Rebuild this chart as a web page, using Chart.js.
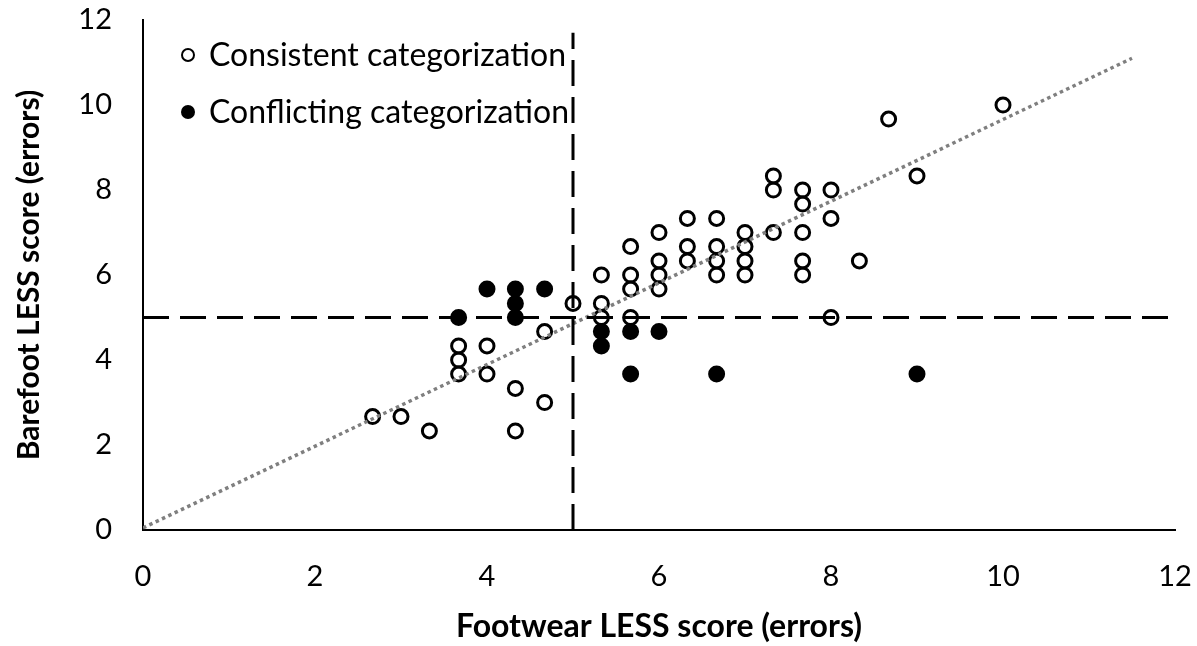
<!DOCTYPE html>
<html>
<head>
<meta charset="utf-8">
<script src="https://cdn.jsdelivr.net/npm/chart.js@4.4.0/dist/chart.umd.min.js"></script>
<style>
  html, body { margin: 0; padding: 0; background: #fff; }
  #wrap { width: 1197px; height: 646px; }
</style>
</head>
<body>
<div id="wrap"><canvas id="lessChart"></canvas></div>
<script>
// open circles - footwear vs barefoot score, same category
var consistentX = [2.67, 3, 3.33, 3.67, 3.67, 3.67, 4, 4, 4.33, 4.33, 4.67, 4.67, 5, 5.33, 5.33, 5.33,
    5.67, 5.67, 5.67, 5.67, 6, 6, 6, 6, 6.33, 6.33, 6.33, 6.67, 6.67, 6.67, 6.67, 7, 7, 7, 7,
    7.33, 7.33, 7.33, 7.67, 7.67, 7.67, 7.67, 7.67, 8, 8, 8, 8.33, 8.67, 9, 10];
var consistentY = [2.67, 2.67, 2.33, 4.33, 4, 3.67, 4.33, 3.67, 3.33, 2.33, 4.67, 3, 5.33, 6, 5.33, 5,
    6.67, 6, 5.67, 5, 7, 6.33, 6, 5.67, 7.33, 6.67, 6.33, 7.33, 6.67, 6.33, 6, 7, 6.67, 6.33, 6,
    8.33, 8, 7, 8, 7.67, 7, 6.33, 6, 8, 7.33, 5, 6.33, 9.67, 8.33, 10];

// filled circles - category changes
var conflictX = [3.67, 4, 4.33, 4.33, 4.33, 4.67, 5.33, 5.33, 5.67, 5.67, 6, 6.67, 9];
var conflictY = [5, 5.67, 5.67, 5.33, 5, 5.67, 4.67, 4.33, 4.67, 3.67, 4.67, 3.67, 3.67];

// trend line ends
var trendX = [0, 11.5];
var trendY = [0.05, 11.1];

// cutoff at 5 errors
var cutVertX = [5, 5];
var cutVertY = [0, 11.7];
var cutHorzX = [0, 12];
var cutHorzY = [5, 5];

var xTicks = [0, 2, 4, 6, 8, 10, 12];
var yTicks = [0, 2, 4, 6, 8, 10, 12];

var legendLabels = ['Consistent categorization', 'Conflicting categorization'];

function toPoints(xs, ys) {
    var pts = [];
    for (var i = 0; i < xs.length; i++) {
        pts.push({ x: xs[i], y: ys[i] });
    }
    return pts;
}

var FONT = 'Lato';

// legend drawn inside the plot, top left
var insideLegend = {
    id: 'insideLegend',
    afterDraw: function (chart) {
        var ctx = chart.ctx;
        var area = chart.chartArea;
        ctx.save();
        ctx.font = '32px ' + FONT;
        ctx.fillStyle = '#000';
        ctx.textBaseline = 'middle';
        var rows = [area.top + 35, area.top + 92];
        for (var i = 0; i < legendLabels.length; i++) {
            ctx.beginPath();
            ctx.arc(area.left + 45, rows[i], i == 0 ? 6 : 7, 0, Math.PI * 2);
            if (i == 0) {
                ctx.lineWidth = 2;
                ctx.strokeStyle = '#000';
                ctx.stroke();
            } else {
                ctx.fill();
            }
            ctx.fillText(legendLabels[i], area.left + 66, rows[i] + 1);
        }
        ctx.restore();
    }
};

var ctx = document.getElementById('lessChart').getContext('2d');
var lessChart = new Chart(ctx, {
    type: 'scatter',
    data: {
        datasets: [
            {
                label: 'cut x',
                type: 'line',
                data: toPoints(cutVertX, cutVertY),
                borderColor: '#000',
                borderWidth: 3,
                borderDash: [26, 11],
                pointRadius: 0,
                fill: false
            },
            {
                label: 'cut y',
                type: 'line',
                data: toPoints(cutHorzX, cutHorzY),
                borderColor: '#000',
                borderWidth: 3,
                borderDash: [26, 11],
                pointRadius: 0,
                fill: false
            },
            {
                label: 'trend',
                type: 'line',
                data: toPoints(trendX, trendY),
                borderColor: '#7f7f7f',
                borderWidth: 3.5,
                borderDash: [3.5, 3.5],
                pointRadius: 0,
                fill: false
            },
            {
                label: legendLabels[0],
                data: toPoints(consistentX, consistentY),
                pointRadius: 7,
                pointBorderWidth: 3,
                borderColor: '#000',
                backgroundColor: 'rgba(0,0,0,0)'
            },
            {
                label: legendLabels[1],
                data: toPoints(conflictX, conflictY),
                pointRadius: 7.5,
                pointBorderWidth: 2,
                borderColor: '#000',
                backgroundColor: '#000'
            }
        ]
    },
    options: {
        responsive: true,
        maintainAspectRatio: false,
        animation: false,
        layout: { autoPadding: false, padding: { top: 20, right: 22, left: 0, bottom: 0 } },
        plugins: {
            legend: { display: false },
            tooltip: { enabled: false }
        },
        scales: {
            x: {
                type: 'linear',
                min: 0,
                max: 12,
                afterBuildTicks: function (scale) {
                    scale.ticks = xTicks.map(function (v) { return { value: v }; });
                },
                afterFit: function (scale) {
                    scale.height = 116;
                    scale.paddingLeft = 0;
                    scale.paddingRight = 0;
                },
                grid: { display: false, drawTicks: false, tickLength: 0 },
                border: { display: true, color: '#000', width: 2 },
                ticks: {
                    color: '#000',
                    padding: 29,
                    font: { family: FONT, size: 29 }
                },
                title: {
                    display: true,
                    text: 'Footwear LESS score (errors)',
                    color: '#000',
                    padding: { top: 0, bottom: 0 },
                    font: { family: FONT, size: 32, weight: 'bold' }
                }
            },
            y: {
                type: 'linear',
                min: 0,
                max: 12,
                afterBuildTicks: function (scale) {
                    scale.ticks = yTicks.map(function (v) { return { value: v }; });
                },
                afterFit: function (scale) {
                    scale.width = 143;
                    scale.paddingTop = 0;
                    scale.paddingBottom = 0;
                },
                grid: { display: false, drawTicks: false, tickLength: 0 },
                border: { display: true, color: '#000', width: 2 },
                ticks: {
                    color: '#000',
                    padding: 31,
                    font: { family: FONT, size: 29 }
                },
                title: {
                    display: true,
                    text: 'Barefoot LESS score (errors)',
                    color: '#000',
                    padding: { top: 11, bottom: 0 },
                    font: { family: FONT, size: 30, weight: 'bold' }
                }
            }
        }
    },
    plugins: [insideLegend]
});
</script>
</body>
</html>
